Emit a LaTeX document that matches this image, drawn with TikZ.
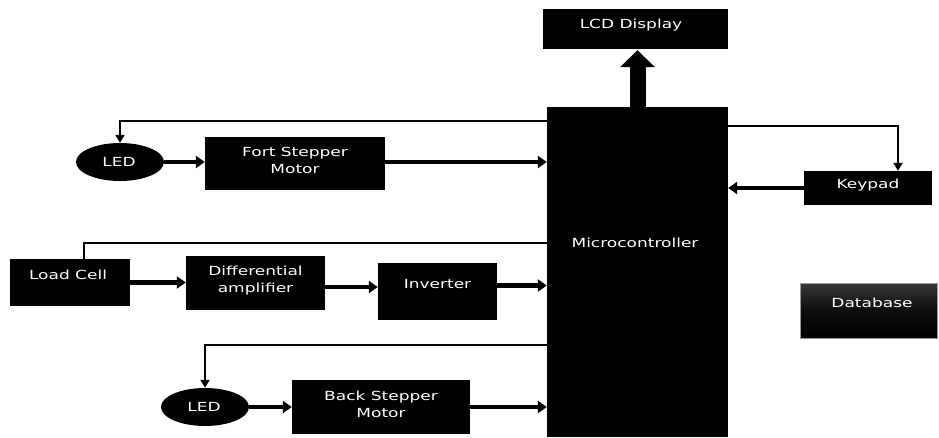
\documentclass[tikz,border=0pt]{standalone}
\usepackage{fontspec}
\newfontfamily\lblfont{DejaVu Sans}[FakeStretch=1.36]
\usetikzlibrary{arrows.meta,shapes.geometric}
\tikzset{
  blk/.style={fill=black, draw=none, inner sep=0pt},
  ledshape/.style={ellipse, fill=black, draw=none, inner sep=0pt, minimum width=88pt, minimum height=38pt},
  txt/.style={text=white, font=\lblfont\fontsize{12.5}{17}\selectfont, align=center, inner sep=0pt},
  thinarr/.style={line width=2pt, -{Triangle[length=8pt,width=9pt]}},
  thickarr/.style={line width=4.5pt, -{Triangle[length=9pt,width=12pt]}},
  plainline/.style={line width=2pt},
}
\begin{document}
\begin{tikzpicture}[x=1pt,y=-1pt]
\useasboundingbox (0,0) rectangle (939,437);
% boxes
\node[blk, minimum width=185pt, minimum height=40pt] (lcd) at (635.5,29) {};
\node[txt] (lcdt) at (631,25) {LCD Display};
\node[blk, minimum width=181pt, minimum height=330pt] (micro) at (637.5,272) {};
\node[txt] (microt) at (635,243) {Microcontroller};
\node[ledshape] (led1) at (120,162) {};
\node[txt] (led1t) at (119,162) {LED};
\node[blk, minimum width=180pt, minimum height=53pt] (fort) at (295,163.5) {};
\node[txt] (fortt) at (295,160) {Fort Stepper\\Motor};
\node[blk, minimum width=120pt, minimum height=47pt] (load) at (70,282.5) {};
\node[txt] (loadt) at (68,275) {Load Cell};
\node[blk, minimum width=139pt, minimum height=54pt] (diff) at (255.5,283) {};
\node[txt] (difft) at (255.5,281) {Differential\\amplifier};
\node[blk, minimum width=119pt, minimum height=57pt] (inv) at (437.5,291.5) {};
\node[txt] (invt) at (437.5,284) {Inverter};
\node[ledshape] (led2) at (205,407) {};
\node[txt] (led2t) at (204,407) {LED};
\node[blk, minimum width=178pt, minimum height=54pt] (back) at (381,407) {};
\node[txt] (backt) at (381,404) {Back Stepper\\Motor};
\node[blk, minimum width=128pt, minimum height=34pt] (keypad) at (868,188) {};
\node[txt] (keypadt) at (868,185) {Keypad};
\node[draw=black!40, line width=1pt, top color=black!78, bottom color=black, middle color=black!95, inner sep=0pt, minimum width=137pt, minimum height=55pt] (db) at (868.5,310.5) {};
\node[txt] (dbt) at (872,303) {Database};
% helper coordinates
\coordinate (y1) at (0,121);
\coordinate (y2) at (0,243);
\coordinate (y3) at (0,345);
\coordinate (y4) at (0,126);
\coordinate (kin) at ([xshift=30pt]keypad.north);
\coordinate (lin) at ([xshift=14pt]load.north);
\coordinate (de) at ([yshift=-4pt]diff.east);
\coordinate (ie) at ([yshift=6pt]inv.east);
% LCD arrow
\draw[line width=16pt, -{Triangle[length=17pt,width=34pt]}] (micro.north) -- ([yshift=-1pt]micro.north |- lcd.south);
% feedback lines
\draw[thinarr] (micro.west |- y1) -| (led1.north);
\draw[plainline] (micro.west |- y2) -| (lin);
\draw[thinarr] (micro.west |- y3) -| (led2.north);
\draw[thinarr] (micro.east |- y4) -| (kin);
% signal arrows
\draw[thickarr] (led1.east) -- (led1.east -| fort.west);
\draw[thickarr] (fort.east |- led1.east) -- (led1.east -| micro.west);
\draw[thickarr] (load.east) -- (load.east -| diff.west);
\draw[thickarr] (de) -- (de -| inv.west);
\draw[thickarr] (ie) -- (ie -| micro.west);
\draw[thickarr] (led2.east) -- (led2.east -| back.west);
\draw[thickarr] (back.east) -- (back.east -| micro.west);
\draw[thickarr] (keypad.west) -- (keypad.west -| micro.east);
\end{tikzpicture}
\end{document}
